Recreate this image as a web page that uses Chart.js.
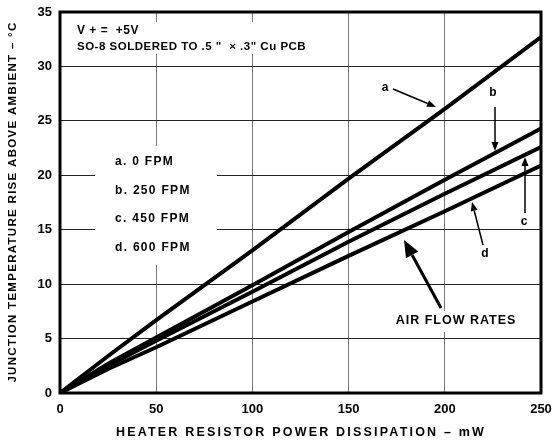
<!DOCTYPE html>
<html>
<head>
<meta charset="utf-8">
<script src="https://cdn.jsdelivr.net/npm/chart.js@4.4.1/dist/chart.umd.min.js"></script>
<style>
  html,body{margin:0;padding:0;background:#fff;}
  #wrap{width:554px;height:443px;position:relative;}
</style>
</head>
<body>
<div id="wrap"><canvas id="c" width="554" height="443"></canvas></div>
<script>
// heater power (mW) and junction rise (degC) for each air flow rate
const powerMw = [0, 25, 50, 100, 150, 200, 250];
const riseA = [0, 3.4, 6.7, 13.1, 19.7, 26.1, 32.7];   // 0 FPM
const riseB = [0, 2.7, 5.1, 9.9, 14.8, 19.6, 24.3];    // 250 FPM
const riseC = [0, 2.5, 4.8, 9.3, 13.9, 18.3, 22.6];    // 450 FPM
const riseD = [0, 2.2, 4.2, 8.4, 12.6, 16.7, 20.9];    // 600 FPM
const curveNames = ['a', 'b', 'c', 'd'];
const legendLines = ['a. 0 FPM', 'b. 250 FPM', 'c. 450 FPM', 'd. 600 FPM'];
const noteLines = ['V + =  +5V', 'SO-8 SOLDERED TO .5 "  \u00d7 .3" Cu PCB'];
const xTitle = 'HEATER RESISTOR POWER DISSIPATION \u2013 mW';
const yTitle = 'JUNCTION TEMPERATURE RISE ABOVE AMBIENT \u2013 \u00b0C';

const FONT = '"Liberation Sans", Arial, sans-serif';
const pts = ys => powerMw.map((x, i) => ({x, y: ys[i]}));

function txt(ctx, s, x, y, size, align, spacing) {
  ctx.save();
  ctx.font = 'bold ' + size + 'px ' + FONT;
  ctx.letterSpacing = (spacing || 0) + 'px';
  ctx.fillStyle = '#000';
  ctx.textAlign = align || 'left';
  ctx.textBaseline = 'middle';
  ctx.fillText(s, x, y);
  ctx.restore();
}
function arrow(ctx, x1, y1, x2, y2, lw, hl, hw) {
  const a = Math.atan2(y2 - y1, x2 - x1);
  const bx = x2 - hl * Math.cos(a), by = y2 - hl * Math.sin(a);
  ctx.save();
  ctx.strokeStyle = '#000'; ctx.fillStyle = '#000'; ctx.lineWidth = lw;
  ctx.beginPath(); ctx.moveTo(x1, y1); ctx.lineTo(bx, by); ctx.stroke();
  ctx.beginPath();
  ctx.moveTo(x2, y2);
  ctx.lineTo(bx + hw / 2 * Math.sin(a), by - hw / 2 * Math.cos(a));
  ctx.lineTo(bx - hw / 2 * Math.sin(a), by + hw / 2 * Math.cos(a));
  ctx.closePath(); ctx.fill();
  ctx.restore();
}

const decor = {
  id: 'decor',
  beforeDatasetsDraw(chart) {
    const ctx = chart.ctx;
    ctx.save();
    ctx.fillStyle = '#fff';
    ctx.fillRect(66, 22, 250, 32);   // behind the note
    ctx.fillRect(95, 146, 122, 119); // behind the legend
    ctx.fillRect(385, 311, 142, 21); // behind AIR FLOW RATES
    ctx.restore();
  },
  afterDatasetsDraw(chart) {
    const {ctx, chartArea: a} = chart;
    ctx.save();
    ctx.strokeStyle = '#000'; ctx.lineWidth = 3;
    ctx.strokeRect(a.left, a.top, a.right - a.left, a.bottom - a.top);
    ctx.restore();
  },
  afterDraw(chart) {
    const ctx = chart.ctx;
    txt(ctx, noteLines[0], 77, 31, 12, 'left', 0.5);
    txt(ctx, noteLines[1], 77, 47, 11.5, 'left', 0.5);
    legendLines.forEach((s, i) => txt(ctx, s, 115, 162 + i * 28.5, 12, 'left', 1.3));
    txt(ctx, curveNames[0], 385, 88, 12, 'center');
    txt(ctx, curveNames[1], 493, 93, 12, 'center');
    txt(ctx, curveNames[2], 524, 222, 12, 'center');
    txt(ctx, curveNames[3], 485, 254, 12, 'center');
    arrow(ctx, 393, 89, 436, 107, 1.5, 9, 7);
    arrow(ctx, 495, 107, 495, 151, 1.5, 9, 7);
    arrow(ctx, 525, 213, 525, 157, 1.5, 9, 7);
    arrow(ctx, 483, 245, 472, 202, 1.5, 9, 7);
    arrow(ctx, 441, 308, 404, 240, 3, 17, 14);
    txt(ctx, 'AIR FLOW RATES', 456, 321, 12.5, 'center', 1);
    txt(ctx, xTitle, 301, 433, 12.5, 'center', 2.2);
    ctx.save();
    ctx.translate(13, 202);
    ctx.rotate(-Math.PI / 2);
    txt(ctx, yTitle, 0, 0, 11.5, 'center', 1.3);
    ctx.restore();
  }
};

const tickFont = {family: FONT, size: 13, weight: 'bold'};
new Chart(document.getElementById('c'), {
  type: 'scatter',
  data: {
    datasets: [riseA, riseB, riseC, riseD].map((ys, i) => ({
      label: curveNames[i],
      data: pts(ys),
      showLine: true,
      borderColor: '#000',
      borderWidth: 4,
      pointRadius: 0,
      tension: 0
    }))
  },
  options: {
    responsive: false,
    animation: false,
    layout: {padding: {top: 12, right: 13, left: 0, bottom: 0}},
    plugins: {legend: {display: false}, tooltip: {enabled: false}},
    scales: {
      x: {
        type: 'linear', min: 0, max: 250,
        ticks: {stepSize: 50, color: '#000', font: tickFont, padding: 9},
        grid: {color: '#777', lineWidth: 1, drawTicks: false},
        border: {display: false},
        afterFit(s) { s.height = 50; s.paddingLeft = 0; s.paddingRight = 0; }
      },
      y: {
        min: 0, max: 35,
        ticks: {stepSize: 5, color: '#000', font: tickFont, padding: 8},
        grid: {color: '#222', lineWidth: 1, drawTicks: false},
        border: {display: false},
        afterFit(s) { s.width = 60; s.paddingTop = 0; s.paddingBottom = 0; }
      }
    }
  },
  plugins: [decor]
});
</script>
</body>
</html>
